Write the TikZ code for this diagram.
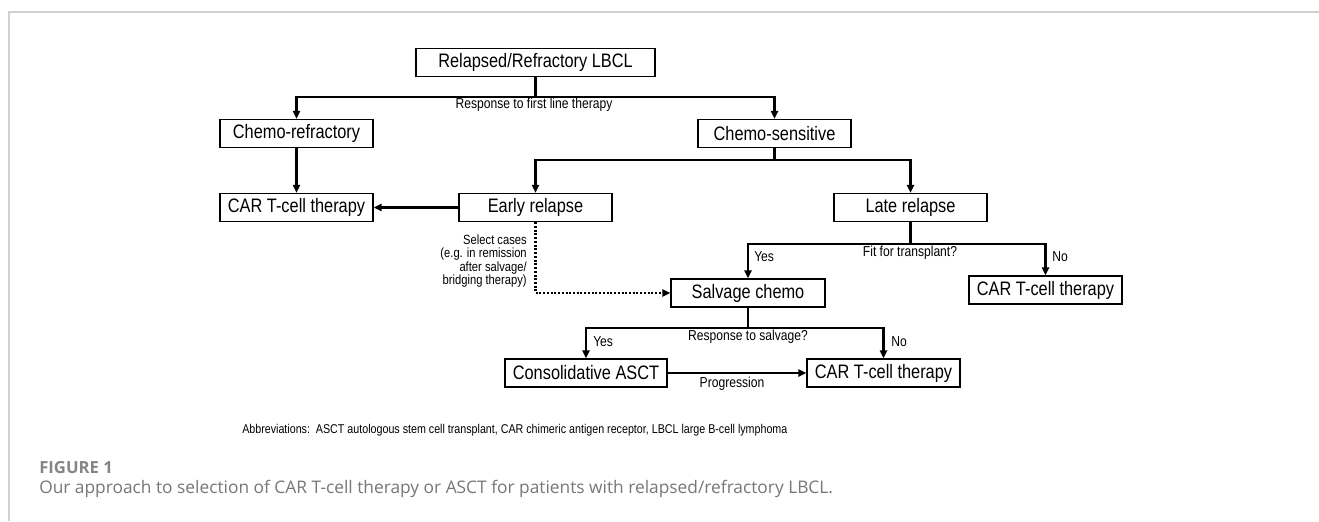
\documentclass[tikz,border=0pt]{standalone}
\usepackage{fontspec}
\setmainfont[FakeStretch=0.84]{Liberation Sans}
\newfontfamily\capfont{Open Sans}
\usetikzlibrary{arrows.meta}
\definecolor{framegrey}{HTML}{D0D0D0}
\definecolor{capgrey}{HTML}{777777}
\definecolor{figgrey}{HTML}{858585}
\def\px{0.75pt}
\begin{document}
\begin{tikzpicture}[x=0.75pt,y=-0.75pt,
  box/.style={draw, line width=1.1pt, minimum height=28*\px, inner sep=0pt,
    font=\fontsize{14.6}{16}\selectfont},
  lbl/.style={inner sep=0pt, font=\fontsize{10.8}{12}\selectfont},
  conn/.style={line width=2pt},
  arr/.style={conn, -{Triangle[length=6pt,width=5.5pt]}},
  dotarr/.style={line width=2pt, dash pattern=on 1.5pt off 1.3pt, -{Triangle[length=6pt,width=5.5pt]}}
]
\useasboundingbox (0,0) rectangle (1319,521);
\fill[white] (0,0) rectangle (1319,521);
\draw[framegrey, line width=0.8pt] (9,521) -- (9,12) -- (1319,12);

% boxes
\node[box, minimum width=239*\px] (top) at (535.5,62.5) {Relapsed/Refractory LBCL};
\node[box, minimum width=153*\px] (cref) at (296.5,133.5) {Chemo-refractory};
\node[box, minimum width=153*\px] (csen) at (774.5,133.5) {Chemo-sensitive};
\node[box, minimum width=153*\px] (car1) at (296.5,207.5) {CAR T-cell therapy};
\node[box, minimum width=153*\px] (early) at (535.5,207.5) {Early relapse};
\node[box, minimum width=153*\px] (late) at (910.5,207.5) {Late relapse};
\node[box, minimum width=154*\px] (salv) at (748,293) {Salvage chemo};
\node[box, minimum width=153*\px] (car2) at (1045.5,290) {CAR T-cell therapy};
\node[box, minimum width=162*\px] (cons) at (586,373) {Consolidative ASCT};
\node[box, minimum width=153*\px] (car3) at (883.5,373) {CAR T-cell therapy};

% junctions
\coordinate (j1) at (535.5,97);
\coordinate (j2) at (774.5,160);
\coordinate (j3) at (910.5,244);
\coordinate (j4) at (748,328);

% connectors
\draw[conn] (top) -- (j1);
\draw[arr] (j1) -| (cref);
\draw[arr] (j1) -| (csen);
\draw[arr] (cref) -- (car1);
\draw[conn] (csen) -- (j2);
\draw[arr] (j2) -| (early);
\draw[arr] (j2) -| (late);
\draw[arr] (early) -- (car1);
\draw[conn] (late) -- (j3);
\draw[arr] (j3) -| (salv);
\draw[arr] (j3) -| (car2);
\draw[dotarr] (early) |- (salv);
\draw[conn] (salv) -- (j4);
\draw[arr] (j4) -| (cons);
\draw[arr] (j4) -| (car3);
\draw[arr] (cons) -- (car3);

% labels
\node[lbl] (l1) at (534,105) {Response to first line therapy};
\node[lbl, anchor=east, align=right, font=\fontsize{10}{10.2}\selectfont] (l2) at (527,261)
  {Select cases\\(e.g. in remission\\after salvage/\\bridging therapy)};
\node[lbl] (l3) at (910,253) {Fit for transplant?};
\node[lbl, anchor=west] (l4) at (754,257) {Yes};
\node[lbl, anchor=west] (l5) at (1052,257) {No};
\node[lbl] (l6) at (748,337) {Response to salvage?};
\node[lbl, anchor=west] (l7) at (593,342) {Yes};
\node[lbl, anchor=west] (l8) at (891,342) {No};
\node[lbl] (l9) at (732,384) {Progression};

\node[inner sep=0pt, anchor=west, font=\fontsize{9.55}{10}\selectfont] (abbr) at (242,430)
  {Abbreviations:\ \ ASCT autologous stem cell transplant, CAR chimeric antigen receptor, LBCL large B-cell lymphoma};

\node[inner sep=0pt, anchor=west, text=figgrey, font=\capfont\bfseries\fontsize{12.5}{14}\selectfont] (fig) at (39,468) {FIGURE 1};
\node[inner sep=0pt, anchor=west, text=capgrey, font=\capfont\fontsize{13}{15}\selectfont] (cap) at (39,489)
  {Our approach to selection of CAR T-cell therapy or ASCT for patients with relapsed/refractory LBCL.};
\end{tikzpicture}
\end{document}
